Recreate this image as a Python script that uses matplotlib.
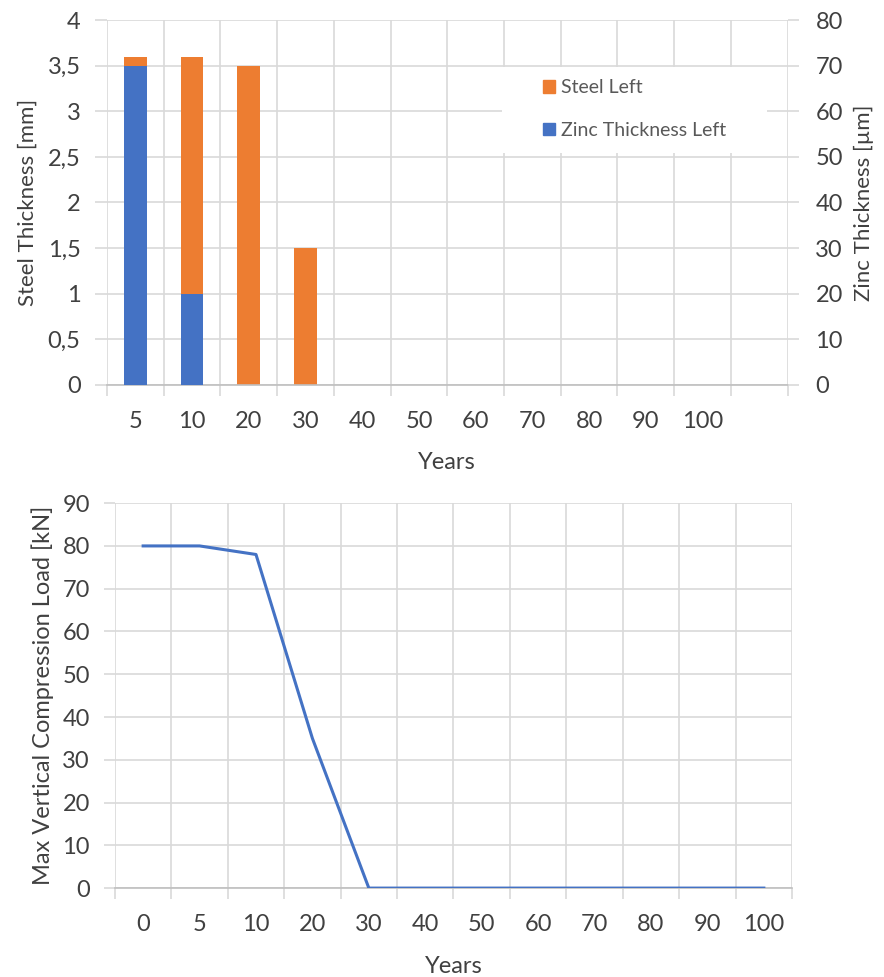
import matplotlib
matplotlib.use("Agg")
import matplotlib.pyplot as plt
from matplotlib.patches import Patch, Rectangle
import numpy as np

# top chart data
years_top = ["5", "10", "20", "30", "40", "50", "60", "70", "80", "90", "100", ""]
steel_left = [3.6, 3.6, 3.5, 1.5, 0, 0, 0, 0, 0, 0, 0, 0]        # mm
zinc_left = [70, 20, 0, 0, 0, 0, 0, 0, 0, 0, 0, 0]               # µm

# bottom chart data
years_bot = ["0", "5", "10", "20", "30", "40", "50", "60", "70", "80", "90", "100"]
max_load = [80, 80, 78, 35, 0, 0, 0, 0, 0, 0, 0, 0]              # kN

steel_ticks = [0, 0.5, 1, 1.5, 2, 2.5, 3, 3.5, 4]
zinc_ticks = [0, 10, 20, 30, 40, 50, 60, 70, 80]
load_ticks = [0, 10, 20, 30, 40, 50, 60, 70, 80, 90]

ORANGE = "#ED7D31"
BLUE = "#4472C4"
GRID = "#D9D9D9"
TXT = "#404040"
TICK_FS = 17

plt.rcParams["font.family"] = ["Lato", "DejaVu Sans"]

fig = plt.figure(figsize=(8.84, 9.77), dpi=100)


def style_cat_axis(ax, labels):
    n = len(labels)
    x = np.arange(n)
    ax.set_xlim(-0.5, n - 0.5)
    ax.set_xticks(x)
    ax.set_xticklabels(labels)
    ax.set_xticks(np.arange(n + 1) - 0.5, minor=True)
    ax.tick_params(axis="x", which="major", length=0, pad=19, labelsize=TICK_FS, labelcolor=TXT)
    ax.tick_params(axis="x", which="minor", length=8, color=GRID, width=1.2, direction="out")
    ax.grid(True, axis="x", which="minor", color=GRID, lw=1.2)
    ax.grid(True, axis="y", which="major", color=GRID, lw=1.2)
    ax.set_axisbelow(True)
    for s in ["top", "right", "left"]:
        ax.spines[s].set_visible(False)
    ax.spines["bottom"].set_color("#BFBFBF")
    ax.spines["bottom"].set_linewidth(1.2)


# ---- top: steel / zinc bars
ax = fig.add_axes([0.121, 0.606, 0.770, 0.3735])
x = np.arange(len(years_top))
ax.bar(x, steel_left, width=0.4, color=ORANGE, zorder=2)
style_cat_axis(ax, years_top)
ax.set_ylim(0, 4)
ax.set_yticks(steel_ticks)
ax.set_yticklabels([("%g" % v).replace(".", ",") for v in steel_ticks])
ax.tick_params(axis="y", length=9, color=GRID, width=1.2, pad=10, labelsize=TICK_FS, labelcolor=TXT)
ax.set_ylabel("Steel Thickness [mm]", fontsize=16, color=TXT, labelpad=7)
ax.set_xlabel("Years", fontsize=17, color=TXT, labelpad=14)

ax2 = ax.twinx()
ax2.bar(x, zinc_left, width=0.4, color=BLUE, zorder=2)
ax2.set_ylim(0, 80)
ax2.set_yticks(zinc_ticks)
ax2.tick_params(axis="y", length=8, color=GRID, width=1.2, pad=12, labelsize=TICK_FS, labelcolor=TXT)
ax2.set_ylabel("Zinc Thickness [µm]", fontsize=16, color=TXT, labelpad=8)
for s in ax2.spines.values():
    s.set_visible(False)

# white box behind legend
ax2.add_patch(Rectangle((0.58, 0.636), 0.39, 0.234, transform=ax2.transAxes,
                        facecolor="white", edgecolor="none", zorder=3))
handles = [Patch(color=ORANGE, label="Steel Left"), Patch(color=BLUE, label="Zinc Thickness Left")]
leg = ax2.legend(handles=handles, loc="upper left", bbox_to_anchor=(0.615, 0.885),
                 frameon=False, fontsize=14, handlelength=0.6, handleheight=0.6,
                 handletextpad=0.3, labelspacing=1.3)
leg.set_zorder(4)
for t in leg.get_texts():
    t.set_color("#595959")

# ---- bottom: max load line
bx = fig.add_axes([0.130, 0.091, 0.766, 0.394])
xb = np.arange(len(years_bot))
bx.plot(xb, max_load, color=BLUE, lw=2.2, zorder=3)
style_cat_axis(bx, years_bot)
bx.set_ylim(0, 90)
bx.set_yticks(load_ticks)
bx.tick_params(axis="y", length=8, color=GRID, width=1.2, pad=10, labelsize=TICK_FS, labelcolor=TXT)
bx.set_ylabel("Max Vertical Compression Load [kN]", fontsize=17, color=TXT, labelpad=6)
bx.set_xlabel("Years", fontsize=17, color=TXT, labelpad=15)

fig.savefig("out.png", dpi=100, facecolor="white")
